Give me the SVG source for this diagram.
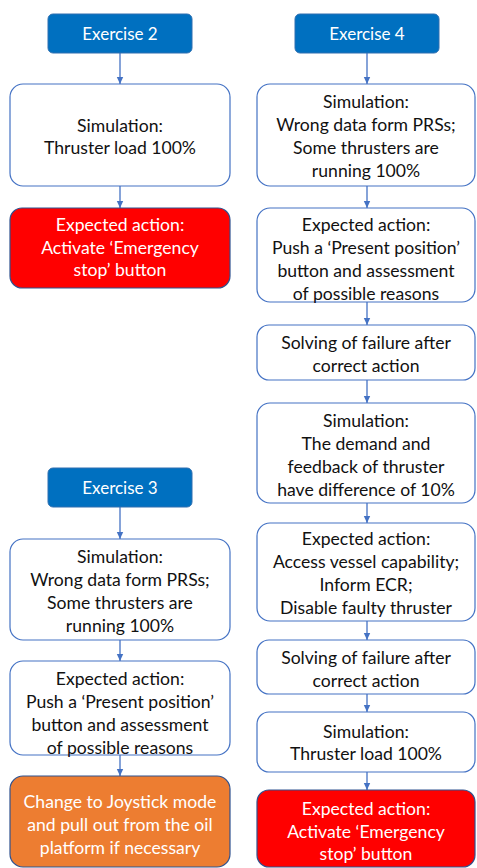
<svg xmlns="http://www.w3.org/2000/svg" width="477" height="868" viewBox="0 0 477 868">
<defs>
<style>
.box{fill:#fff;stroke:#4472C4;stroke-width:1.2}
.ex{fill:#0070C0;stroke:#2F6FB0;stroke-width:1}
.red{fill:#FF0000;stroke:#2F528F;stroke-width:1.2}
.org{fill:#ED7D31;stroke:#2F528F;stroke-width:1.2}
text{font-family:Lato,"Liberation Sans",sans-serif;font-size:17.6px;text-anchor:middle;fill:#111}
.w{fill:#fff}
.exl{font-size:17px;fill:#fff}
.c{stroke:#4472C4;stroke-width:1.3;fill:none;marker-end:url(#ah)}
</style>
<marker id="ah" markerUnits="userSpaceOnUse" markerWidth="8" markerHeight="8" refX="7" refY="4" orient="auto">
<path d="M0,0.8 L7,4 L0,7.2 Z" fill="#4472C4"/>
</marker>
</defs>
<g id="connectors">
<line class="c" x1="120" y1="53" x2="120" y2="84"/>
<line class="c" x1="120" y1="186" x2="120" y2="208"/>
<line class="c" x1="120" y1="507" x2="120" y2="539"/>
<line class="c" x1="120" y1="640" x2="120" y2="661"/>
<line class="c" x1="120" y1="755" x2="120" y2="776"/>
<line class="c" x1="367" y1="53" x2="367" y2="84"/>
<line class="c" x1="367" y1="186" x2="367" y2="208"/>
<line class="c" x1="367" y1="302" x2="367" y2="325"/>
<line class="c" x1="367" y1="380" x2="367" y2="403"/>
<line class="c" x1="367" y1="503" x2="367" y2="523"/>
<line class="c" x1="367" y1="621" x2="367" y2="640"/>
<line class="c" x1="367" y1="694" x2="367" y2="712"/>
<line class="c" x1="367" y1="772" x2="367" y2="790"/>
</g>
<g id="ex2"><rect class="ex" x="48" y="14" width="144" height="39" rx="5"/><text class="exl" x="120" y="40">Exercise 2</text></g>
<g id="l1"><rect class="box" x="10" y="84" width="220" height="102" rx="13"/>
<text x="120" y="132">Simulation:<tspan x="120" dy="22">Thruster load 100%</tspan></text></g>
<g id="l2"><rect class="red" x="10" y="208" width="220" height="80" rx="12"/>
<text class="w" x="120" y="231">Expected action:<tspan x="120" dy="22.5">Activate ‘Emergency</tspan><tspan x="120" dy="22.5">stop’ button</tspan></text></g>
<g id="ex3"><rect class="ex" x="48" y="468" width="144" height="39" rx="5"/><text class="exl" x="120" y="494">Exercise 3</text></g>
<g id="l3"><rect class="box" x="10" y="539" width="220" height="101" rx="13"/>
<text x="120" y="563">Simulation:<tspan x="120" dy="23">Wrong data form PRSs;</tspan><tspan x="120" dy="23">Some thrusters are</tspan><tspan x="120" dy="23">running 100%</tspan></text></g>
<g id="l4"><rect class="box" x="10" y="661" width="220" height="94" rx="13"/>
<text x="120" y="685">Expected action:<tspan x="120" dy="23">Push a ‘Present position’</tspan><tspan x="120" dy="23">button and assessment</tspan><tspan x="120" dy="23">of possible reasons</tspan></text></g>
<g id="l5"><rect class="org" x="10" y="776" width="220" height="91" rx="13"/>
<text class="w" x="120" y="808">Change to Joystick mode<tspan x="120" dy="23">and pull out from the oil</tspan><tspan x="120" dy="23">platform if necessary</tspan></text></g>
<g id="ex4"><rect class="ex" x="295" y="14" width="144" height="39" rx="5"/><text class="exl" x="367" y="40">Exercise 4</text></g>
<g id="r1"><rect class="box" x="257" y="84" width="218" height="102" rx="13"/>
<text x="366" y="108">Simulation:<tspan x="366" dy="23">Wrong data form PRSs;</tspan><tspan x="366" dy="23">Some thrusters are</tspan><tspan x="366" dy="23">running 100%</tspan></text></g>
<g id="r2"><rect class="box" x="257" y="208" width="218" height="94" rx="13"/>
<text x="366" y="231">Expected action:<tspan x="366" dy="23">Push a ‘Present position’</tspan><tspan x="366" dy="23">button and assessment</tspan><tspan x="366" dy="23">of possible reasons</tspan></text></g>
<g id="r3"><rect class="box" x="257" y="325" width="218" height="55" rx="12"/>
<text x="366" y="349">Solving of failure after<tspan x="366" dy="23">correct action</tspan></text></g>
<g id="r4"><rect class="box" x="257" y="403" width="218" height="100" rx="13"/>
<text x="366" y="427">Simulation:<tspan x="366" dy="23">The demand and</tspan><tspan x="366" dy="23">feedback of thruster</tspan><tspan x="366" dy="23">have difference of 10%</tspan></text></g>
<g id="r5"><rect class="box" x="257" y="523" width="218" height="98" rx="13"/>
<text x="366" y="545">Expected action:<tspan x="366" dy="23">Access vessel capability;</tspan><tspan x="366" dy="23">Inform ECR;</tspan><tspan x="366" dy="23">Disable faulty thruster</tspan></text></g>
<g id="r6"><rect class="box" x="257" y="640" width="218" height="54" rx="12"/>
<text x="366" y="664">Solving of failure after<tspan x="366" dy="23">correct action</tspan></text></g>
<g id="r7"><rect class="box" x="257" y="712" width="218" height="60" rx="12"/>
<text x="366" y="738">Simulation:<tspan x="366" dy="22">Thruster load 100%</tspan></text></g>
<g id="r8"><rect class="red" x="257" y="790" width="218" height="77" rx="12"/>
<text class="w" x="366" y="815">Expected action:<tspan x="366" dy="22.5">Activate ‘Emergency</tspan><tspan x="366" dy="22.5">stop’ button</tspan></text></g>
</svg>
